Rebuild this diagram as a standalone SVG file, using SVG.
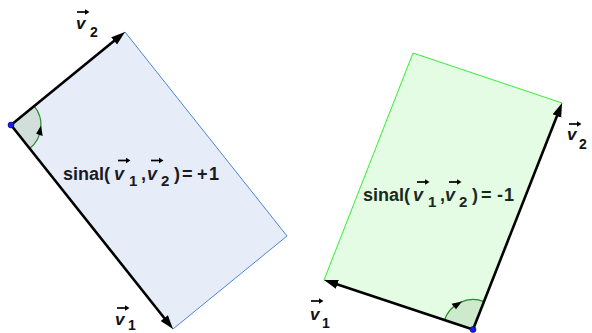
<svg xmlns="http://www.w3.org/2000/svg" xmlns:xlink="http://www.w3.org/1999/xlink" width="592" height="333" viewBox="0 0 592 333">
<style>
.lbl{font-family:"Liberation Sans",Arial,sans-serif;font-weight:bold;fill:#111}
.vec{stroke:#000;stroke-width:2.6;fill:none;marker-end:url(#ah)}
.arc{fill:none;stroke:#2a8a2a;stroke-width:1.2}
.dot{fill:#1a1ae6;stroke:#00006a;stroke-width:0.6}
.ov{stroke:#000;fill:#000}
</style>
<defs>
<marker id="ah" markerUnits="userSpaceOnUse" markerWidth="16" markerHeight="12" viewBox="0 -6 16 12" refX="6" refY="0" orient="auto">
<path d="M0,-4.6L14,0L0,4.6Z" fill="#000"/>
</marker>
<g id="ovec" class="ov"><path d="M0,0H9" stroke-width="1.7"/><path d="M8,-2.8L12.5,0L8,2.8Z" stroke="none"/></g>
</defs>
<rect width="592" height="333" fill="#fff"/>
<g id="para-left">
<polygon points="11,125 173,329 287,236 125,32" fill="#e6ecf8" stroke="#4a84dc" stroke-width="1"/>
<path d="M11,125 L29.66,148.49 A30,30 0 0,0 34.25,106.04 Z" fill="#d2ded9"/>
<path class="arc" d="M29.66,148.49 A30,30 0 0,0 34.25,106.04"/>
<path d="M41,125.5 L42.7,135.9 L36.1,133.7 Z" fill="#000"/>
</g>
<g id="para-right">
<polygon points="473,329.5 324,280 413,53 562,103" fill="#e4fbe4" stroke="#33ee33" stroke-width="1"/>
<path d="M473,329.5 L444.53,320.05 A30,30 0 0,1 483.97,301.58 Z" fill="#cdeacd"/>
<path class="arc" d="M444.53,320.05 A30,30 0 0,1 483.97,301.58"/>
<path d="M462,301.6 L451.5,303.8 L456,309.2 Z" fill="#000"/>
</g>
<g id="connectors">
<line class="vec" x1="11" y1="125" x2="118.8" y2="37.06"/>
<line class="vec" x1="11" y1="125" x2="168.02" y2="322.74"/>
<line class="vec" x1="473" y1="329.5" x2="331.6" y2="282.5"/>
<line class="vec" x1="473" y1="329.5" x2="559.1" y2="110.4"/>
</g>
<g id="origin-left"><circle class="dot" cx="11" cy="125" r="3"/></g>
<g id="origin-right"><circle class="dot" cx="473" cy="329.5" r="3"/></g>
<g id="label-left-v2">
<text class="lbl" x="76" y="28.5" font-size="17"><tspan font-style="italic">v</tspan><tspan x="90" y="36.5" font-size="14">2</tspan></text>
<use xlink:href="#ovec" x="77" y="12"/>
</g>
<g id="label-left-v1">
<text class="lbl" x="115" y="325" font-size="17"><tspan font-style="italic">v</tspan><tspan x="128" y="329.5" font-size="14">1</tspan></text>
<use xlink:href="#ovec" x="117" y="308"/>
</g>
<g id="label-right-v2">
<text class="lbl" x="567" y="140" font-size="17"><tspan font-style="italic">v</tspan><tspan x="579" y="149" font-size="14">2</tspan></text>
<use xlink:href="#ovec" x="569" y="124"/>
</g>
<g id="label-right-v1">
<text class="lbl" x="310" y="320" font-size="17"><tspan font-style="italic">v</tspan><tspan x="322" y="327.5" font-size="14">1</tspan></text>
<use xlink:href="#ovec" x="311" y="301"/>
</g>
<g id="sign-left">
<text class="lbl" y="179.5" font-size="18" style="fill:#1a1a22"><tspan x="63">sinal(</tspan><tspan x="114" font-style="italic">v</tspan><tspan x="129" y="185.5" font-size="15">1</tspan><tspan x="141" y="179.5">,</tspan><tspan x="147" font-style="italic">v</tspan><tspan x="161" y="185.5" font-size="15">2</tspan><tspan x="174" y="179.5">)</tspan><tspan x="182">=</tspan><tspan x="197">+</tspan><tspan x="209">1</tspan></text>
<use xlink:href="#ovec" x="118" y="160.5"/>
<use xlink:href="#ovec" x="151" y="160.5"/>
</g>
<g id="sign-right">
<text class="lbl" y="201" font-size="18" style="fill:#1a2a1a"><tspan x="363">sinal(</tspan><tspan x="413" font-style="italic">v</tspan><tspan x="428" y="207" font-size="15">1</tspan><tspan x="440" y="201">,</tspan><tspan x="445" font-style="italic">v</tspan><tspan x="459" y="207" font-size="15">2</tspan><tspan x="472" y="201">)</tspan><tspan x="481">=</tspan><tspan x="497">-</tspan><tspan x="504">1</tspan></text>
<use xlink:href="#ovec" x="417" y="182"/>
<use xlink:href="#ovec" x="449" y="182"/>
</g>
</svg>
